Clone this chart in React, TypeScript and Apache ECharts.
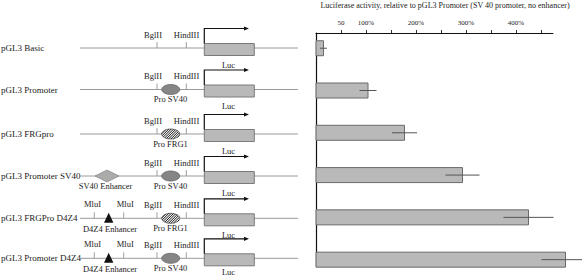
import React, { useEffect, useRef } from "react";
import * as echarts from "echarts";

const CONSTRUCTS = [
  "pGL3 Basic",
  "pGL3 Promoter",
  "pGL3 FRGpro",
  "pGL3 Promoter SV40",
  "pGL3 FRGPro D4Z4",
  "pGL3 Promoter D4Z4",
];
const ACTIVITY = [15, 104, 177, 293, 425, 499];
const ERRORS = [7, 17, 25, 34, 50, 48];
const PROMOTER = ["", "SV40", "FRG1", "SV40", "FRG1", "SV40"];
const ENHANCER = ["", "", "", "SV40", "D4Z4", "D4Z4"];
const TICK_VALUES = [50, 100, 150, 200, 250, 300, 350, 400, 450];
const LABEL_VALUES = [50, 100, 200, 300, 400];
const LABEL_TEXTS = ["50", "100%", "200%", "300%", "400%"];
const TITLE = "Luciferase activity, relative to pGL3 Promoter (SV 40 promoter, no enhancer)";

// layout of the schematic rows (pixels)
const ROW_Y = [48, 89.5, 134, 176, 218.3, 258.3];
const SERIF = "'Liberation Serif', 'DejaVu Serif', serif";
const TXT = "#222";
const LINE = "#9a9a9a";

function text(str: string, x: number, y: number, size: number, align = "center") {
  return {
    type: "text",
    x,
    y,
    silent: true,
    style: {
      text: str,
      fontSize: size,
      fontFamily: SERIF,
      fill: TXT,
      align,
      verticalAlign: "middle",
    },
  };
}

function hatchEllipse(cx: number, cy: number, rx: number, ry: number) {
  const els: any[] = [
    {
      type: "ellipse",
      shape: { cx, cy, rx, ry },
      style: { fill: "#f2f2f2", stroke: "#555", lineWidth: 0.8 },
    },
  ];
  const a = 1 / (rx * rx) + 1 / (ry * ry);
  for (let k = -14; k <= 14; k += 2.4) {
    const b = (2 * k) / (rx * rx);
    const c = (k * k) / (rx * rx) - 1;
    const d = b * b - 4 * a * c;
    if (d <= 0) continue;
    const t1 = (-b - Math.sqrt(d)) / (2 * a);
    const t2 = (-b + Math.sqrt(d)) / (2 * a);
    els.push({
      type: "line",
      shape: { x1: cx + k + t1, y1: cy - t1, x2: cx + k + t2, y2: cy - t2 },
      style: { stroke: "#222", lineWidth: 1 },
    });
  }
  return els;
}

function buildDiagram() {
  const g: any[] = [];
  g.push(text(TITLE, 445, 5.5, 8));
  CONSTRUCTS.forEach((name, i) => {
    const Y = ROW_Y[i];
    g.push(text(name, 1, Y, 9, "left"));
    g.push({ type: "line", shape: { x1: 80, y1: Y, x2: 298, y2: Y }, style: { stroke: LINE, lineWidth: 1 } });
    // restriction sites
    g.push({ type: "line", shape: { x1: 157, y1: Y - 6, x2: 157, y2: Y }, style: { stroke: "#888", lineWidth: 0.8 } });
    g.push({ type: "line", shape: { x1: 186.3, y1: Y - 6, x2: 186.3, y2: Y }, style: { stroke: "#888", lineWidth: 0.8 } });
    g.push(text("BglII", 153, Y - 13.5, 8.5));
    g.push(text("HindIII", 186.5, Y - 13.5, 8.5));
    // luciferase box
    g.push({ type: "rect", shape: { x: 204.3, y: Y - 4.5, width: 50, height: 12 }, style: { fill: "#b9b9b9", stroke: "#7a7a7a", lineWidth: 1 } });
    g.push(text("Luc", 228.5, Math.min(Y + 16.5, 272), 8.5));
    // transcription arrow
    g.push({
      type: "polyline",
      shape: { points: [[204.3, Y - 4.5], [204.3, Y - 19.5], [245, Y - 19.5]] },
      style: { stroke: "#111", lineWidth: 1.2, fill: null },
    });
    g.push({
      type: "polygon",
      shape: { points: [[249, Y - 19.5], [244, Y - 21.6], [244, Y - 17.4]] },
      style: { fill: "#111" },
    });
    // promoter
    if (PROMOTER[i] === "SV40") {
      g.push({ type: "ellipse", shape: { cx: 170.7, cy: Y, rx: 9, ry: 5 }, style: { fill: "#858585", stroke: "#666", lineWidth: 0.8 } });
      g.push(text("Pro SV40", 170.5, Y + 9.5, 8.5));
    } else if (PROMOTER[i] === "FRG1") {
      g.push(...hatchEllipse(170.7, Y, 9, 5));
      g.push(text("Pro FRG1", 170.5, Y + 9.5, 8.5));
    }
    // enhancer
    if (ENHANCER[i] === "SV40") {
      g.push({
        type: "polygon",
        shape: { points: [[95, Y], [107, Y - 6], [119, Y], [107, Y + 6]] },
        style: { fill: "#ababab", stroke: "#8a8a8a", lineWidth: 0.8 },
      });
      g.push(text("SV40 Enhancer", 105.5, Y + 10, 8.5));
    } else if (ENHANCER[i] === "D4Z4") {
      g.push({ type: "line", shape: { x1: 94.3, y1: Y - 6, x2: 94.3, y2: Y }, style: { stroke: "#888", lineWidth: 0.8 } });
      g.push({ type: "line", shape: { x1: 123.7, y1: Y - 6, x2: 123.7, y2: Y }, style: { stroke: "#888", lineWidth: 0.8 } });
      g.push(text("MluI", 92.5, Y - 14, 8.5));
      g.push(text("MluI", 125.3, Y - 14, 8.5));
      g.push({
        type: "polygon",
        shape: { points: [[108.7, Y - 5.5], [113.4, Y + 4.5], [104, Y + 4.5]] },
        style: { fill: "#111" },
      });
      g.push(text("D4Z4 Enhancer", 110, Y + 11, 8.5));
    }
  });
  return g;
}

export default function App() {
  const ref = useRef<HTMLDivElement>(null);
  useEffect(() => {
    if (!ref.current) return;
    const chart = echarts.init(ref.current, null, { renderer: "svg" });
    const data = ACTIVITY.map((v, i) => [v, i + 1, ERRORS[i]]);
    chart.setOption({
      animation: false,
      backgroundColor: "#fff",
      grid: { left: 316, right: 29, top: 33, bottom: 11, containLabel: false },
      xAxis: {
        type: "value",
        position: "top",
        min: 0,
        max: 474,
        axisLine: { show: true, onZero: false, lineStyle: { color: "#111", width: 1 } },
        axisTick: { show: true, length: 3, customValues: TICK_VALUES, lineStyle: { color: "#333" } },
        axisLabel: {
          customValues: LABEL_VALUES,
          formatter: (v: number) => LABEL_TEXTS[LABEL_VALUES.indexOf(v)] ?? "",
          fontSize: 7,
          fontFamily: SERIF,
          color: TXT,
          margin: 7,
        },
        splitLine: { show: false },
      },
      yAxis: {
        type: "value",
        inverse: true,
        min: 0.64,
        max: 6.15,
        axisLine: { show: true, onZero: false, lineStyle: { color: "#111", width: 1.2 } },
        axisTick: { show: false },
        axisLabel: { show: false },
        splitLine: { show: false },
      },
      series: [
        {
          type: "custom",
          clip: false,
          data,
          renderItem: (params: any, api: any) => {
            const v = api.value(0);
            const row = api.value(1);
            const err = api.value(2);
            const s = api.coord([0, row]);
            const e = api.coord([v, row]);
            const lo = api.coord([v - err, row]);
            const hi = api.coord([v + err, row]);
            return {
              type: "group",
              children: [
                {
                  type: "rect",
                  shape: { x: s[0], y: s[1] - 7.5, width: e[0] - s[0], height: 15 },
                  style: { fill: "#b9b9b9", stroke: "#6a6a6a", lineWidth: 1 },
                },
                {
                  type: "line",
                  shape: { x1: lo[0], y1: e[1], x2: hi[0], y2: e[1] },
                  style: { stroke: "#555", lineWidth: 1 },
                },
              ],
            };
          },
        },
      ],
      graphic: buildDiagram(),
    });
    return () => chart.dispose();
  }, []);
  return <div ref={ref} style={{ position: "fixed", left: 0, top: 0, width: 582, height: 277 }} />;
}
